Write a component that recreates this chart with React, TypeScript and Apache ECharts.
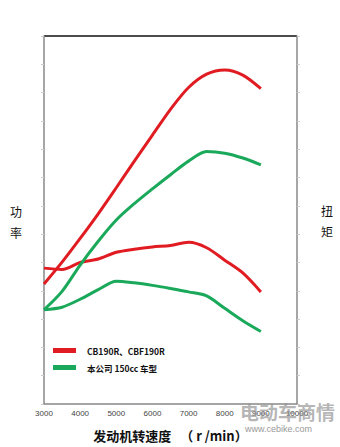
import React, { useEffect, useRef } from "react";
import * as echarts from "echarts";

const rpm = [3000, 3500, 4000, 4500, 5000, 5500, 6000, 6500, 7000, 7500, 8000, 8500, 9000];
const redPower = [4.24, 5.01, 5.85, 6.72, 7.64, 8.58, 9.5, 10.41, 11.18, 11.65, 11.8, 11.62, 11.14];
const greenPower = [3.33, 3.98, 4.91, 5.75, 6.5, 7.08, 7.6, 8.1, 8.58, 8.92, 8.86, 8.69, 8.45];
const redTorque = [4.8, 4.75, 5.0, 5.12, 5.36, 5.47, 5.55, 5.6, 5.71, 5.52, 5.08, 4.63, 3.96];
const greenTorque = [3.33, 3.42, 3.7, 4.04, 4.34, 4.28, 4.19, 4.08, 3.96, 3.82, 3.38, 2.94, 2.56];
const legendNames = ["CB190R、CBF190R", "本公司 150cc 车型"];
const xName = "发动机转速度   （ r /min）";

const RED = "#e01c22";
const GREEN = "#1aa95a";

const pairs = (ys: number[]) => rpm.map((x, i) => [x, ys[i]]);

export default function App() {
  const ref = useRef<HTMLDivElement>(null);
  useEffect(() => {
    if (!ref.current) return;
    const chart = echarts.init(ref.current, null, { renderer: "svg" });
    const lineSeries = (name: string, color: string, ys: number[]) => ({
      type: "line",
      name,
      data: pairs(ys),
      smooth: 0.3,
      showSymbol: false,
      symbol: "none",
      lineStyle: { color, width: 3 },
      itemStyle: { color },
      z: 3,
    });
    chart.setOption({
      animation: false,
      backgroundColor: "#ffffff",
      grid: { left: 44, right: 43, top: 36, bottom: 40, containLabel: false },
      legend: {
        data: legendNames,
        orient: "vertical",
        left: 48,
        top: 340,
        icon: "rect",
        itemWidth: 23,
        itemHeight: 5,
        itemGap: 6,
        textStyle: {
          fontFamily: "Noto Sans CJK SC",
          fontWeight: "bold",
          fontSize: 8.5,
          color: "#111",
          lineHeight: 11,
          padding: [0, 0, 0, 6],
        },
      },
      xAxis: {
        type: "value",
        min: 3000,
        max: 10000,
        interval: 1000,
        splitLine: { show: false },
        axisLine: { show: true, lineStyle: { color: "#888", width: 1.5 } },
        axisTick: { show: false },
        axisLabel: {
          fontFamily: "Liberation Sans",
          fontSize: 8,
          color: "#444",
          margin: 5,
          showMinLabel: true,
          showMaxLabel: true,
          formatter: (v: number) => String(v),
        },
        name: xName,
        nameLocation: "middle",
        nameGap: 25,
        nameTextStyle: {
          fontFamily: "Noto Sans CJK SC",
          fontWeight: "bold",
          fontSize: 13,
          color: "#111",
        },
      },
      yAxis: [
        {
          type: "value",
          min: 0,
          max: 13,
          interval: 1,
          position: "left",
          splitLine: { show: false },
          axisLine: { show: true, lineStyle: { color: "#888", width: 1.5 } },
          axisTick: { show: true, length: 3, inside: false, lineStyle: { color: "#ccc" } },
          axisLabel: { show: false },
        },
        {
          type: "value",
          min: 0,
          max: 13,
          interval: 1,
          position: "right",
          splitLine: { show: false },
          axisLine: { show: true, onZero: false, lineStyle: { color: "#888", width: 1.5 } },
          axisTick: { show: true, length: 3, inside: false, lineStyle: { color: "#ccc" } },
          axisLabel: { show: false },
        },
      ],
      graphic: [
        {
          type: "line",
          shape: { x1: 44, y1: 36, x2: 297, y2: 36 },
          style: { stroke: "#111", lineWidth: 1.5 },
        },
        {
          type: "text",
          left: 10,
          top: 205,
          style: { text: "功", fontSize: 12, fontFamily: "Noto Sans CJK SC", fill: "#111" },
        },
        {
          type: "text",
          left: 10,
          top: 226,
          style: { text: "率", fontSize: 12, fontFamily: "Noto Sans CJK SC", fill: "#111" },
        },
        {
          type: "text",
          left: 321,
          top: 204,
          style: { text: "扭", fontSize: 12, fontFamily: "Noto Sans CJK SC", fill: "#111" },
        },
        {
          type: "text",
          left: 321,
          top: 225,
          style: { text: "矩", fontSize: 12, fontFamily: "Noto Sans CJK SC", fill: "#111" },
        },
        {
          type: "text",
          left: 240,
          top: 402,
          z: 10,
          style: {
            text: "电动车商情",
            fontSize: 19,
            fontFamily: "Noto Sans CJK SC",
            fontWeight: "bold",
            fill: "rgba(150,150,150,0.7)",
          },
        },
        {
          type: "text",
          left: 245,
          top: 424,
          z: 10,
          style: {
            text: "www.cebike.com",
            fontSize: 9,
            fontFamily: "Liberation Sans",
            fill: "#999",
          },
        },
      ],
      series: [
        lineSeries(legendNames[0], RED, redPower),
        lineSeries(legendNames[0], RED, redTorque),
        lineSeries(legendNames[1], GREEN, greenPower),
        lineSeries(legendNames[1], GREEN, greenTorque),
      ],
    });
    return () => chart.dispose();
  }, []);
  return (
    <div
      ref={ref}
      style={{ position: "fixed", left: 0, top: 0, width: 340, height: 447, background: "#fff" }}
    />
  );
}
